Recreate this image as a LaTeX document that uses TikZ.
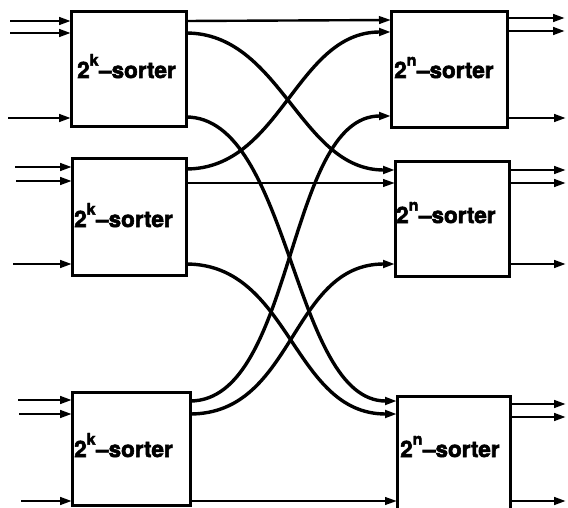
\documentclass[tikz,border=0pt]{standalone}
\usepackage{fontspec}
\setmainfont{TeX Gyre Heros}[BoldFeatures={FakeBold=2.6}]
\usetikzlibrary{arrows.meta}
% label "2^x-sorter" in heavy sans
\newcommand\sortlabel[1]{2\raisebox{0.55em}{\fontsize{16}{16}\selectfont #1}\kern0.5pt--sorter}

\begin{document}
\begin{tikzpicture}[x=1pt,y=-1pt,
  box/.style={draw,line width=3pt,inner sep=0pt},
  lbl/.style={anchor=base west,inner sep=0pt,font=\bfseries\fontsize{22.5}{22.5}\selectfont},
  head/.style={-{Triangle[length=12pt,width=7.5pt]}},
  wire/.style={line width=2.4pt},
  crosswire/.style={line width=3.4pt,head},
  feed/.style={line width=2.8pt,head}]
\useasboundingbox (0,0) rectangle (568,508);

% first stage: three 2^k-sorters
\node[box,minimum width=115pt,minimum height=115pt] (L1) at (128.5,69.5) {};
\node[box,minimum width=114pt,minimum height=116pt] (L2) at (129,217) {};
\node[box,minimum width=118pt,minimum height=113pt] (L3) at (131,448.5) {};
% second stage: three 2^n-sorters
\node[box,minimum width=116pt,minimum height=116pt] (R1) at (449,70) {};
\node[box,minimum width=114pt,minimum height=114pt] (R2) at (452,219) {};
\node[box,minimum width=113pt,minimum height=116pt] (R3) at (453.5,454) {};

\node[lbl] (L1t) at (77,78) {\sortlabel{k}};
\node[lbl] (L2t) at (74,227) {\sortlabel{k}};
\node[lbl] (L3t) at (74,457) {\sortlabel{k}};
\node[lbl] (R1t) at (394,78) {\sortlabel{n}};
\node[lbl] (R2t) at (396,223) {\sortlabel{n}};
\node[lbl] (R3t) at (400,457) {\sortlabel{n}};

% ports
\coordinate (a1) at (10,21);  \coordinate (L1i1) at (71,21);
\coordinate (a2) at (10,33);  \coordinate (L1i2) at (71,33);
\coordinate (a3) at (8,118);  \coordinate (L1i3) at (71,118);
\coordinate (b1) at (15,167); \coordinate (L2i1) at (72,167);
\coordinate (b2) at (16,181); \coordinate (L2i2) at (72,181);
\coordinate (b3) at (13,264); \coordinate (L2i3) at (72,264);
\coordinate (c1) at (18,400); \coordinate (L3i1) at (72,400);
\coordinate (c2) at (19,414); \coordinate (L3i2) at (72,414);
\coordinate (c3) at (21,501); \coordinate (L3i3) at (72,501);

\coordinate (L1o1) at (186,21);  \coordinate (L1o2) at (186,33);  \coordinate (L1o3) at (186,117);
\coordinate (L2o1) at (186,169); \coordinate (L2o2) at (186,183); \coordinate (L2o3) at (186,264);
\coordinate (L3o1) at (190,401); \coordinate (L3o2) at (190,414); \coordinate (L3o3) at (190,501);

\coordinate (R1i1) at (391,20);  \coordinate (R1i2) at (391,32);  \coordinate (R1i3) at (391,116);
\coordinate (R2i1) at (395,170); \coordinate (R2i2) at (395,183); \coordinate (R2i3) at (395,264);
\coordinate (R3i1) at (397,401); \coordinate (R3i2) at (397,414); \coordinate (R3i3) at (397,501);

\coordinate (R1o1) at (507,18);  \coordinate (d1) at (565,18);
\coordinate (R1o2) at (507,31);  \coordinate (d2) at (565,31);
\coordinate (R1o3) at (507,118); \coordinate (d3) at (566,118);
\coordinate (R2o1) at (509,170); \coordinate (e1) at (566,170);
\coordinate (R2o2) at (509,183); \coordinate (e2) at (566,183);
\coordinate (R2o3) at (509,264); \coordinate (e3) at (566,264);
\coordinate (R3o1) at (510,404); \coordinate (f1) at (566,404);
\coordinate (R3o2) at (510,417); \coordinate (f2) at (566,417);
\coordinate (R3o3) at (510,501); \coordinate (f3) at (566,501);

% inputs of the first stage
\foreach \s/\t in {a1/L1i1,a2/L1i2,a3/L1i3,b1/L2i1,b2/L2i2,b3/L2i3,c1/L3i1,c2/L3i2,c3/L3i3}
  \draw[feed] (\s) -- (\t);

% straight links
\draw[wire,head] (L1o1) -- (R1i1);
\draw[wire,head] (L2o2) -- (R2i2);
\draw[wire,head] (L3o3) -- (R3i3);

% crossing links: output j of sorter i goes to input i of sorter j
\draw[crosswire] (L1o2) .. controls +(95,0) and +(-95,0) .. (R2i1);
\draw[crosswire] (L1o3) .. controls +(105,0) and +(-105,0) .. (R3i1);
\draw[crosswire] (L2o1) .. controls +(95,0) and +(-95,0) .. (R1i2);
\draw[crosswire] (L2o3) .. controls +(105,0) and +(-105,0) .. (R3i2);
\draw[crosswire] (L3o1) .. controls +(105,0) and +(-105,0) .. (R1i3);
\draw[crosswire] (L3o2) .. controls +(105,0) and +(-105,0) .. (R2i3);

% outputs of the second stage
\foreach \s/\t in {R1o1/d1,R1o2/d2,R1o3/d3,R2o1/e1,R2o2/e2,R2o3/e3,R3o1/f1,R3o2/f2,R3o3/f3}
  \draw[feed] (\s) -- (\t);
\end{tikzpicture}
\end{document}
